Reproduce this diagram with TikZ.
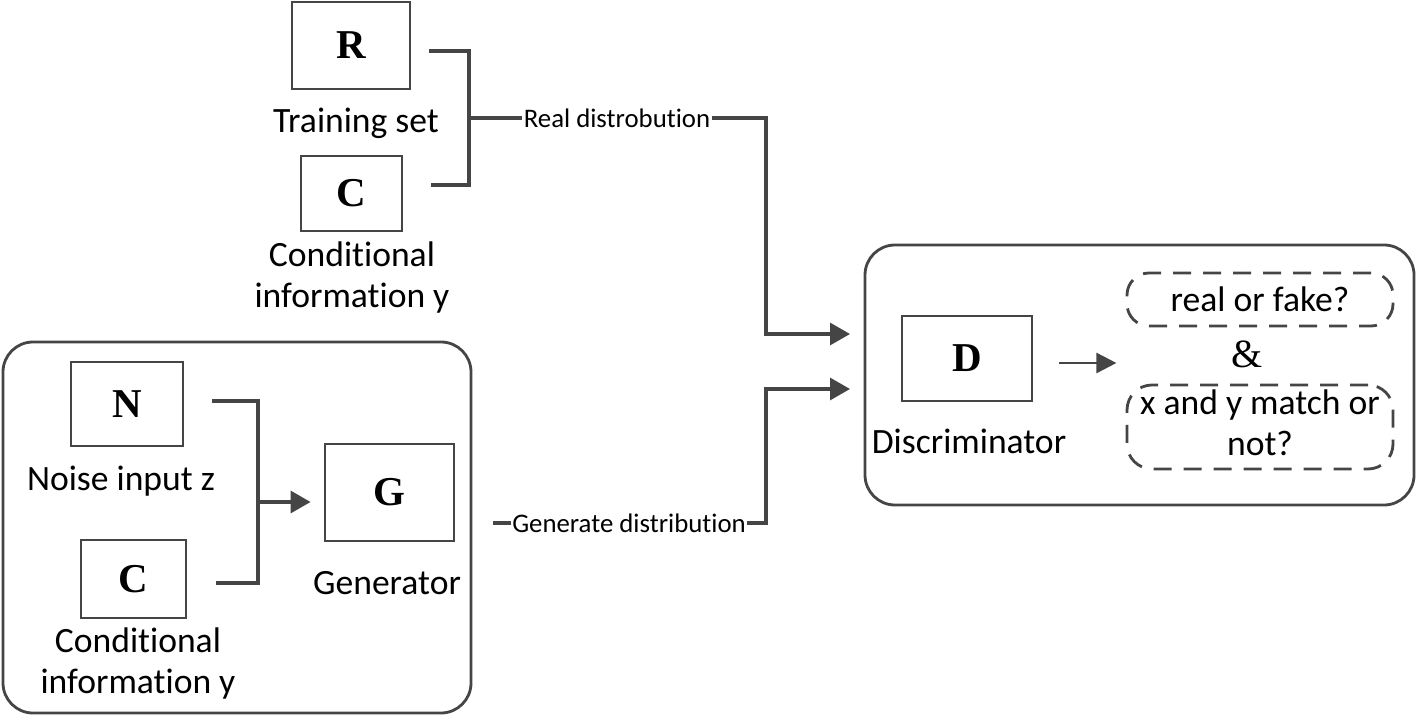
\documentclass[tikz,border=0pt]{standalone}
\usepackage{fontspec}
\setmainfont{Carlito}[Ligatures=NoCommon]
\newfontfamily\tnr{Liberation Serif}
\usetikzlibrary{arrows.meta}
\definecolor{ln}{HTML}{454545}
\begin{document}
\begin{tikzpicture}[x=0.5pt,y=-0.5pt,
  box/.style={draw=ln,line width=1.4pt,inner sep=0pt,font=\tnr\bfseries\fontsize{20.5}{24}\selectfont},
  bigbox/.style={draw=ln,line width=1.4pt,inner sep=0pt,rounded corners=15pt},
  dbox/.style={draw=ln,line width=1.4pt,inner sep=0pt,dash pattern=on 9pt off 6pt,font=\fontsize{17.8}{20.5}\selectfont},
  lbl/.style={font=\fontsize{17.8}{20.5}\selectfont,inner sep=0pt,anchor=base},
  small/.style={font=\fontsize{13.4}{16}\selectfont,inner sep=0.5pt},
  conn/.style={draw=ln,line width=1.6pt},
  arr/.style={conn,-{Triangle[length=10pt,width=11pt]}},
  arrs/.style={draw=ln,line width=1.3pt,-{Triangle[length=10pt,width=10pt]}}]
\useasboundingbox (0,0) rectangle (1416,715);

% background groups
\node[bigbox,minimum width=234pt,minimum height=185.5pt] (GB) at (237,527.5) {};
\node[bigbox,minimum width=274.5pt,minimum height=130pt] (DB) at (1139.5,375) {};

% real data
\node[box,minimum width=59pt,minimum height=43.5pt] (R) at (351,45.5) {R};
\node[lbl] (trn) at (356,133) {Training set};
\node[box,minimum width=50.5pt,minimum height=37.5pt] (C1) at (351.5,193.5) {C};
\node[lbl] (c1l) at (352,267) {\begin{tabular}[t]{@{}c@{}}Conditional\\information y\end{tabular}};

% generator group
\node[box,minimum width=56pt,minimum height=42pt] (N) at (127,404) {N};
\node[lbl] (nl) at (121,490) {Noise input z};
\node[box,minimum width=52.5pt,minimum height=39pt] (C2) at (133.5,579) {C};
\node[lbl] (c2l) at (138,652) {\begin{tabular}[t]{@{}c@{}}Conditional\\information y\end{tabular}};
\node[box,minimum width=64.5pt,minimum height=48.5pt] (G) at (389.5,492.5) {G};
\node[lbl] (gl) at (387,594) {Generator};

% discriminator group
\node[box,minimum width=65pt,minimum height=42.5pt] (D) at (967,358.5) {D};
\node[lbl] (dl) at (969,453) {Discriminator};
\node[dbox,minimum width=133pt,minimum height=26.5pt,rounded corners=11pt] (q1) at (1260,299.5) {real or fake?};
\node[lbl,font=\tnr\fontsize{20}{24}\selectfont] (amp) at (1247,368) {\&};
\node[dbox,minimum width=133pt,minimum height=42pt,rounded corners=12.5pt] (q2) at (1260,427) {\begin{tabular}{@{}c@{}}x and y match or\\not?\end{tabular}};

% edge labels
\node[small] (rd) at (617,118) {Real distrobution};
\node[small] (gd) at (629,523) {Generate distribution};

% connectors
\coordinate (j1) at (469,118);
\draw[conn] ([xshift=9pt,yshift=-2.75pt]R.east) -| (j1) |- ([xshift=14pt,yshift=4.25pt]C1.east);
\draw[conn] (j1) -- (rd.west);
\coordinate (k1) at (766,334);
\coordinate (e1) at (850,334);
\draw[arr] (rd.east) -| (k1) -- (e1);

\coordinate (g0) at (493,523);
\coordinate (k2) at (766,389);
\coordinate (e2) at (850,389);
\draw[conn] (g0) -- (gd.west);
\draw[arr] (gd.east) -| (k2) -- (e2);

\coordinate (j2) at (258,502);
\draw[conn] ([xshift=14pt,yshift=1.5pt]N.east) -| (j2) |- ([xshift=14.5pt,yshift=-2pt]C2.east);
\draw[arr] (j2) -- ([xshift=-6.5pt,yshift=-4.75pt]G.west);

\draw[arrs] ([xshift=13pt,yshift=-2.25pt]D.east) -- ([xshift=41.5pt,yshift=-2.25pt]D.east);
\end{tikzpicture}
\end{document}
